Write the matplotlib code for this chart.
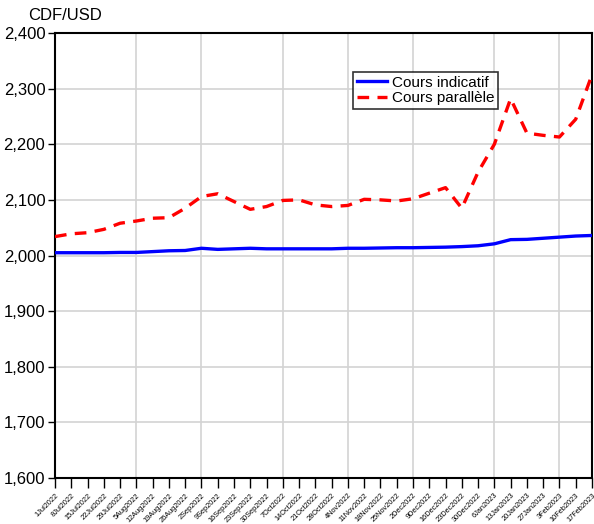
import matplotlib
matplotlib.use("Agg")
import matplotlib.pyplot as plt
import numpy as np

dates = ["1Jul2022", "8Jul2022", "15Jul2022", "22Jul2022", "29Jul2022",
         "5Aug2022", "12Aug2022", "19Aug2022", "26Aug2022",
         "2Sep2022", "9Sep2022", "16Sep2022", "23Sep2022", "30Sep2022",
         "7Oct2022", "14Oct2022", "21Oct2022", "28Oct2022",
         "4Nov2022", "11Nov2022", "18Nov2022", "25Nov2022",
         "2Dec2022", "9Dec2022", "16Dec2022", "23Dec2022", "30Dec2022",
         "6Jan2023", "13Jan2023", "20Jan2023", "27Jan2023",
         "3Feb2023", "10Feb2023", "17Feb2023"]

indicatif = [2005, 2005, 2005, 2005, 2005.5, 2005.5, 2007, 2008.5, 2009,
             2013, 2011, 2012, 2013, 2012, 2012, 2012, 2012, 2012,
             2013, 2013, 2013.5, 2014, 2014, 2014.5, 2015, 2016, 2017.5,
             2021, 2028.5, 2029, 2031, 2033, 2035, 2036]

parallele = [2034, 2039, 2041, 2047, 2058, 2062, 2067, 2068, 2085,
             2106, 2111, 2097, 2083, 2088, 2099, 2100, 2091, 2088,
             2090, 2101, 2100, 2098, 2102, 2112, 2122, 2085, 2150,
             2200, 2282, 2220, 2216, 2213, 2245, 2325]

month_starts = ["5Aug2022", "2Sep2022", "7Oct2022", "4Nov2022",
                "2Dec2022", "6Jan2023", "3Feb2023"]

plt.rcParams['font.family'] = ['Liberation Sans', 'DejaVu Sans']

fig = plt.figure(figsize=(5.94, 5.24), dpi=100)
ax = fig.add_axes([55/594, 1-478/524, (592-55)/594, (478-33)/524])

x = np.arange(len(dates))
ax.plot(x, indicatif, color='#0000ff', lw=2.4, label='Cours indicatif', zorder=3)
ax.plot(x, parallele, color='#ff0000', lw=2.4, ls=(0, (3.5, 2.5)), label='Cours parallèle', zorder=3)

ax.set_xlim(0, len(dates)-1)
ax.set_ylim(1600, 2400)
ax.set_yticks(np.arange(1600, 2401, 100))
ax.set_yticklabels([f"{v:,}" for v in range(1600, 2401, 100)], fontsize=12)
ax.set_xticks(x)
ax.set_xticklabels(dates, rotation=45, ha='right', rotation_mode='anchor', fontsize=5.3)

for v in range(1700, 2400, 100):
    ax.axhline(v, color='#d3d3d3', lw=1.2, zorder=1)
for d in month_starts:
    ax.axvline(dates.index(d), color='#d3d3d3', lw=1.2, zorder=1)

ax.tick_params(axis='y', direction='out', length=5, width=1, pad=2)
ax.tick_params(axis='x', direction='out', length=7, width=1, pad=3)
for s in ax.spines.values():
    s.set_linewidth(1.5)
    s.set_color('black')

fig.text(28/594, 1-16/524, "CDF/USD", fontsize=12, va='center', ha='left')

leg = ax.legend(loc='upper left', bbox_to_anchor=((353-55)/537, 1-(72-33)/445),
                fontsize=11, frameon=True, fancybox=False, edgecolor='black',
                borderpad=0.25, labelspacing=0.1, handlelength=2.0, handletextpad=0.3,
                borderaxespad=0)
leg.get_frame().set_linewidth(1.2)

fig.savefig("out.png", dpi=100)
